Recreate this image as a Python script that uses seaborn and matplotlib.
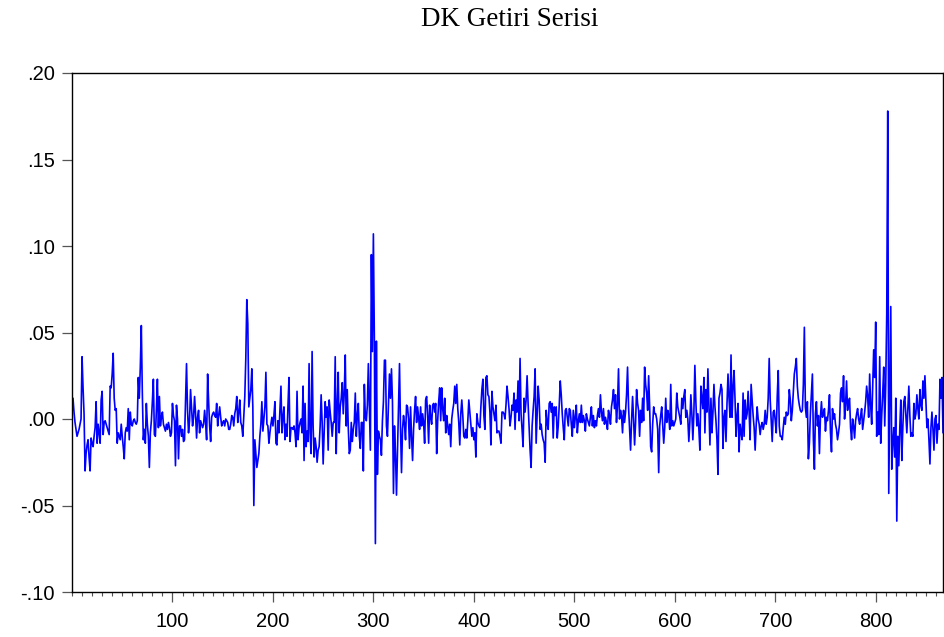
import numpy as np
import pandas as pd
import matplotlib
matplotlib.use("Agg")
import matplotlib.pyplot as plt
import seaborn as sns
from matplotlib.ticker import MultipleLocator

# Return series (values in thousandths)
r001_100 = [12, 4, -2, -6, -10, -8, -6, -3, 0, 36,
            18, 3, -30, -20, -15, -12, -22, -30, -11, -14,
            -16, -10, -5, 10, -14, -3, -8, -14, 11, 16,
            -9, -2, -1, -3, -5, -7, -9, 19, 18, 26,
            38, 12, 5, 6, -14, -8, -10, -12, -3, -10,
            -16, -23, -8, -5, -7, 6, -12, 4, -3, -4,
            -1, 0, -2, -3, -1, 24, 12, 30, 54, 15,
            -12, -6, -14, 9, -3, -10, -28, -8, -1, 10,
            23, -9, -10, 5, 23, -5, 13, -4, 1, 4,
            -3, -5, -7, -3, -6, -2, -5, -10, -8, 9]
r101_200 = [2, -1, -27, 8, 0, -23, -4, -4, -10, -6,
            -13, -12, 10, 32, 5, -8, -1, 17, 6, -4,
            1, 13, 3, -11, 1, 5, -8, -1, -3, -5,
            -3, 5, -2, -12, 26, 10, -4, -13, 1, 3,
            4, 2, 1, 9, -4, 2, 7, 1, -4, -2,
            -1, -4, 0, -1, -2, -6, -6, -3, 2, 1,
            -4, 3, 6, 13, -2, 4, 11, -2, -4, -10,
            2, 13, 35, 69, 55, 7, 12, 17, 29, 7,
            -50, -12, -20, -28, -24, -20, -10, -3, 10, -7,
            0, 7, 27, -3, -4, -14, -8, -3, 1, -4]
r201_300 = [2, 10, -14, -15, -1, -8, 5, 19, -8, 1,
            7, -12, -3, -10, 8, 24, -13, -5, -5, -6,
            -4, -8, -16, 16, -12, -5, -2, 0, -8, 19,
            -24, 9, -16, -7, -13, 32, -8, -20, 39, -4,
            -22, -11, -16, -25, -18, -16, -4, 14, -2, -26,
            -8, 10, 1, 7, -18, 11, 4, -2, -10, -2,
            -2, 36, -20, 8, 27, -8, 7, 12, 21, 3,
            15, 37, -4, 17, -5, -20, -18, -2, -13, -6,
            -2, 15, -10, 2, 9, -10, -17, -2, -2, -30,
            20, 1, -1, 8, 32, 7, -18, 95, 39, 107]
r301_400 = [44, -72, 45, -32, -7, -10, -12, -21, -1, 10,
            34, 34, -4, -10, 8, 26, 12, 29, 10, -43,
            -4, -20, -44, -18, 10, 32, -5, -31, -6, 2,
            -3, -12, 8, 7, 0, -17, 7, -10, -24, -6,
            5, 13, -2, 7, 1, -6, 7, -4, 3, -2,
            -14, 11, 13, 2, -14, 8, 1, -3, 8, 9,
            4, 9, -20, -1, 10, 18, -1, 18, 6, -1,
            12, -8, 2, -4, -9, -3, -16, 0, 5, 9,
            19, 9, 20, 6, -2, -15, 3, 11, 2, -10,
            -11, -6, -11, -1, 11, 4, -3, -10, -5, -12]
r401_500 = [-8, -22, 3, -2, -4, -5, 7, 17, 23, 2,
            -6, 24, 25, 14, 13, 4, -15, 16, 7, 3,
            -1, 8, -8, -7, -7, -10, -14, 4, 4, 3,
            0, 8, 19, 13, 6, -4, 1, 8, 5, 15,
            -6, 11, 4, 22, -1, 35, 3, -6, -16, 12,
            4, 11, 25, 9, -4, -18, -28, -4, 5, 13,
            29, -14, 2, 19, 11, -6, -3, -9, -12, -14,
            -25, 5, -2, -6, 9, 10, 4, 9, -11, 7,
            2, 7, -11, -4, 8, 22, 14, 3, -5, -12,
            5, 6, 1, -4, 6, 5, -3, -10, 5, -5]
r501_600 = [1, 8, -8, -1, 3, -2, 8, -2, 2, -1,
            -7, 3, 0, -2, -4, 1, 7, -4, 2, -5,
            -1, -4, 2, 6, 1, 14, 4, -1, 6, -3,
            1, -2, -6, 5, 2, -3, 7, 11, 17, 6,
            14, -2, 8, 29, 0, 5, 2, -8, 5, -2,
            4, 14, 30, 7, -5, -18, -1, 13, 0, -15,
            -2, 17, 9, 5, -10, 5, -2, 12, -1, 30,
            20, 15, 5, 25, 7, -16, -19, -3, 7, 3,
            3, 0, -6, -31, -4, 2, 7, -4, -14, -5,
            12, -2, 5, 2, -6, 20, -4, -1, -4, -2]
r601_700 = [0, 15, 7, 4, 1, -3, 12, 6, 13, 17,
            1, 5, 0, -13, -2, 14, 3, -12, 3, 31,
            10, -4, 3, -6, -18, 19, 12, 6, 24, -8,
            17, 4, 29, 8, -15, 12, -8, 4, 20, 7,
            -1, -12, -32, 12, 15, 20, 17, -17, 1, 5,
            -13, 9, 26, 12, 1, 37, 1, 18, 28, 11,
            -10, 2, 9, -19, -3, -8, -12, 15, -10, 11,
            0, 3, 16, 4, -12, 20, 11, 2, -5, -18,
            -4, 7, 0, -3, -9, -4, -2, -6, -3, 5,
            -3, 1, 12, 35, 11, -1, -13, 4, 5, -1]
r701_800 = [-8, 13, 28, -4, -10, -10, -12, -5, 1, -3,
            4, 2, 3, 17, 11, -1, 5, 15, 26, 30,
            35, 19, 12, 8, 5, 4, 5, 20, 53, 7,
            1, 10, -23, -14, 3, 15, 26, -12, -29, 3,
            10, -4, 2, -20, 1, 10, 1, 3, 6, -7,
            1, -1, 5, 14, -8, -19, 6, 0, 3, -3,
            -6, -12, -8, -3, 15, 18, 10, 25, 0, 8,
            22, 5, 10, 12, -5, -12, 0, -4, -11, -1,
            3, 6, 0, -3, 2, 6, -6, -1, 4, 10,
            19, 13, 1, 26, 8, -3, 19, 40, 24, 56]
r801_867 = [-10, 4, -9, 36, -14, 2, 15, 30, -4, 20,
            61, 178, -43, 10, 65, -29, -14, -5, -22, 12,
            -59, -10, -27, -5, 11, -24, -5, 10, 13, 3,
            -8, 6, 19, 2, -10, -8, -10, 9, 0, 3,
            14, 6, 0, 17, 8, 5, 22, 12, 25, 10,
            -5, 0, -12, -26, -5, 4, -6, -18, 0, 2,
            -14, -3, -6, 23, 12, 24, -8]

y_ticks = [-0.10, -0.05, 0.00, 0.05, 0.10, 0.15, 0.20]
y_labels = ["-.10", "-.05", ".00", ".05", ".10", ".15", ".20"]
x_ticks = [100, 200, 300, 400, 500, 600, 700, 800]
x_labels = ["100", "200", "300", "400", "500", "600", "700", "800"]
title = "DK Getiri Serisi"

values = np.array(r001_100 + r101_200 + r201_300 + r301_400 + r401_500
                  + r501_600 + r601_700 + r701_800 + r801_867) / 1000.0
obs = np.arange(1, len(values) + 1)
df = pd.DataFrame({"obs": obs, "ret": values})

sns.set_style("ticks")
plt.rcParams["font.family"] = ["Liberation Sans", "DejaVu Sans"]

fig = plt.figure(figsize=(9.44, 6.37), dpi=100)
ax = fig.add_axes([72 / 944, 1 - 592 / 637, (943 - 72) / 944, (592 - 73) / 637])

sns.lineplot(data=df, x="obs", y="ret", ax=ax, color="#0000ff", linewidth=1.2)

ax.set_xlim(0, len(values))
ax.set_ylim(-0.10, 0.20)
ax.set_xticks(x_ticks)
ax.set_xticklabels(x_labels)
ax.xaxis.set_minor_locator(MultipleLocator(10))
ax.set_yticks(y_ticks)
ax.set_yticklabels(y_labels)
ax.set_xlabel("")
ax.set_ylabel("")

ax.tick_params(axis="both", which="major", labelsize=14.5, colors="#555555",
               labelcolor="black", direction="out", width=0.9)
ax.tick_params(axis="y", which="major", length=7.5, pad=5)
ax.tick_params(axis="x", which="major", length=7.5, pad=7)
ax.tick_params(axis="x", which="minor", length=3, width=0.8, colors="#555555")

for side in ["left", "bottom", "top", "right"]:
    ax.spines[side].set_visible(True)
    ax.spines[side].set_color("black")
    ax.spines[side].set_linewidth(1.0)

fig.text(510 / 944, 1 - 20 / 637, title, ha="center", va="center",
         fontsize=19.5, color="black", family=["Liberation Serif", "DejaVu Serif"])

fig.savefig("out.png", dpi=100)
